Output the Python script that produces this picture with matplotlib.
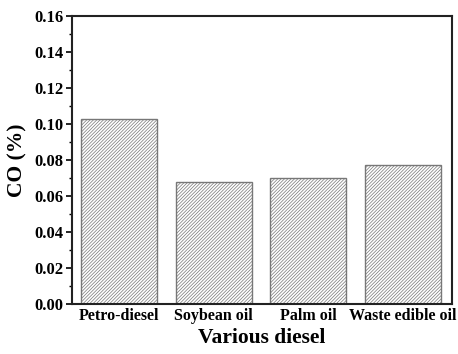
import numpy as np
import matplotlib
matplotlib.use('Agg')
import matplotlib.pyplot as plt
from matplotlib.ticker import MultipleLocator

fuels = ['Petro-diesel', 'Soybean oil', 'Palm oil', 'Waste edible oil']
co = [0.103, 0.068, 0.070, 0.077]

plt.rcParams['font.family'] = ['Liberation Serif', 'DejaVu Serif']
plt.rcParams['font.weight'] = 'bold'
plt.rcParams['hatch.color'] = '#999999'
plt.rcParams['hatch.linewidth'] = 0.5

fig = plt.figure(figsize=(4.58, 3.54), dpi=100)
ax = fig.add_axes([0.157, 0.141, 0.83, 0.814])

x = np.arange(len(fuels))
ax.bar(x, co, width=0.8, color='white', edgecolor='#777777', hatch='//////////', linewidth=1.0)

ax.set_xlim(-0.5, 3.52)
ax.set_ylim(0, 0.16)
ax.yaxis.set_minor_locator(MultipleLocator(0.01))
yt = np.arange(0, 0.161, 0.02)
ax.set_yticks(yt)
ax.set_yticklabels(['%.2f' % v for v in yt], fontsize=12, fontweight='bold')
ax.set_xticks(x)
ax.set_xticklabels(fuels, fontsize=11.5, fontweight='bold')
ax.tick_params(axis='x', length=0, pad=3)
ax.tick_params(axis='y', which='major', direction='out', length=4, width=1.2, pad=2)
ax.tick_params(axis='y', which='minor', direction='out', length=2, width=1.0)

for s in ax.spines.values():
    s.set_linewidth(1.5)
    s.set_color('#222222')

ax.set_ylabel('CO (%)', fontsize=15.5, fontweight='bold', labelpad=5)
ax.set_xlabel('Various diesel', fontsize=15.5, fontweight='bold', labelpad=3)

fig.savefig('out.png', dpi=100)
